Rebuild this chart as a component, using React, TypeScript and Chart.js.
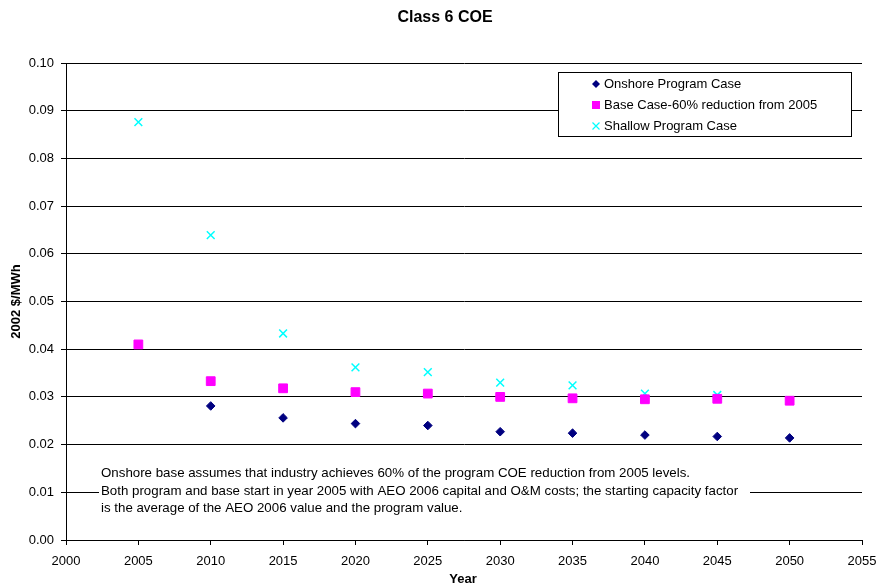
import React, { useEffect, useRef } from "react";
import { Chart, registerables } from "chart.js";

Chart.register(...registerables);

const years = [2005, 2010, 2015, 2020, 2025, 2030, 2035, 2040, 2045, 2050];
const onshoreProgram = [null, 0.0281, 0.0256, 0.0244, 0.024, 0.0227, 0.0224, 0.022, 0.0217, 0.0214];
const baseCase = [0.041, 0.0333, 0.0318, 0.031, 0.0307, 0.03, 0.0297, 0.0295, 0.0296, 0.0292];
const shallowProgram = [0.0876, 0.0639, 0.0433, 0.0362, 0.0352, 0.033, 0.0324, 0.0307, 0.0304, 0.0293];

const seriesNames = ["Onshore Program Case", "Base Case-60% reduction from 2005", "Shallow Program Case"];
const chartTitle = "Class 6 COE";
const xTitle = "Year";
const yTitle = "2002 $/MWh";
const noteLines = [
  "Onshore base assumes that industry achieves 60% of the program COE reduction from 2005 levels.",
  "Both program and base start in year 2005 with AEO 2006 capital and O&M costs; the starting capacity factor",
  "is the average of the AEO 2006 value and the program value.",
];

const SANS = "'Liberation Sans', Arial, sans-serif";

const toPoints = (vals: (number | null)[]) =>
  years.map((x, i) => ({ x, y: vals[i] })).filter((p) => p.y !== null) as { x: number; y: number }[];

function drawMarker(ctx: CanvasRenderingContext2D, style: string, x: number, y: number, color: string) {
  ctx.save();
  ctx.fillStyle = color;
  ctx.strokeStyle = color;
  ctx.lineWidth = 1.2;
  ctx.beginPath();
  if (style === "rectRot") {
    ctx.moveTo(x, y - 4);
    ctx.lineTo(x + 4, y);
    ctx.lineTo(x, y + 4);
    ctx.lineTo(x - 4, y);
    ctx.closePath();
    ctx.fill();
  } else if (style === "rect") {
    ctx.rect(x - 4, y - 4, 8, 8);
    ctx.fill();
  } else {
    ctx.moveTo(x - 3.5, y - 3.5);
    ctx.lineTo(x + 3.5, y + 3.5);
    ctx.moveTo(x + 3.5, y - 3.5);
    ctx.lineTo(x - 3.5, y + 3.5);
    ctx.stroke();
  }
  ctx.restore();
}

const decorPlugin = {
  id: "decor",
  beforeDatasetsDraw(chart: any) {
    const ctx = chart.ctx as CanvasRenderingContext2D;
    ctx.save();
    ctx.fillStyle = "#fff";
    ctx.fillRect(99, 462, 651, 54);
    ctx.fillStyle = "#000";
    ctx.font = `13.3px ${SANS}`;
    ctx.textBaseline = "middle";
    ctx.textAlign = "left";
    const ys = [473, 491, 508];
    noteLines.forEach((t, i) => ctx.fillText(t, 101, ys[i]));
    ctx.restore();
  },
  afterDraw(chart: any) {
    const ctx = chart.ctx as CanvasRenderingContext2D;
    ctx.save();
    ctx.fillStyle = "#000";
    ctx.font = `bold 16px ${SANS}`;
    ctx.textAlign = "center";
    ctx.textBaseline = "middle";
    ctx.fillText(chartTitle, 445, 18);

    ctx.font = `bold 13px ${SANS}`;
    ctx.fillText(xTitle, 463, 579);

    const bx = 558.5, by = 72.5, bw = 293, bh = 64;
    ctx.fillStyle = "#fff";
    ctx.fillRect(bx, by, bw, bh);
    ctx.strokeStyle = "#000";
    ctx.lineWidth = 1;
    ctx.strokeRect(bx, by, bw, bh);
    const rows = [84, 105, 126];
    const styles = ["rectRot", "rect", "crossRot"];
    const colors = ["#000080", "#FF00FF", "#00FFFF"];
    rows.forEach((ry, i) => {
      drawMarker(ctx, styles[i], 596, ry, colors[i]);
      ctx.fillStyle = "#000";
      ctx.font = `13px ${SANS}`;
      ctx.textAlign = "left";
      ctx.textBaseline = "middle";
      ctx.fillText(seriesNames[i], 604, ry);
    });
    ctx.restore();
  },
};

export default function App() {
  const ref = useRef<HTMLCanvasElement | null>(null);

  useEffect(() => {
    if (!ref.current) return;
    const chart = new Chart(ref.current, {
      type: "scatter",
      data: {
        datasets: [
          {
            label: seriesNames[0],
            data: toPoints(onshoreProgram),
            pointStyle: "rectRot",
            pointRadius: 4.3,
            backgroundColor: "#000080",
            borderColor: "#000080",
            borderWidth: 1,
          },
          {
            label: seriesNames[1],
            data: toPoints(baseCase),
            pointStyle: "rect",
            pointRadius: 6.2,
            backgroundColor: "#FF00FF",
            borderColor: "#FF00FF",
            borderWidth: 1,
          },
          {
            label: seriesNames[2],
            data: toPoints(shallowProgram),
            pointStyle: "crossRot",
            pointRadius: 5.5,
            backgroundColor: "#00FFFF",
            borderColor: "#00FFFF",
            borderWidth: 1.5,
          },
        ],
      },
      options: {
        animation: false,
        responsive: false,
        devicePixelRatio: 1,
        layout: { padding: { left: 0, top: 63, right: 14, bottom: 0 } },
        plugins: {
          legend: { display: false },
          title: { display: false },
          tooltip: { enabled: false },
        },
        scales: {
          x: {
            type: "linear",
            min: 2000,
            max: 2055,
            afterFit: (s: any) => {
              s.height = 46;
              s.paddingRight = 0;
              s.paddingLeft = 0;
            },
            ticks: {
              stepSize: 5,
              color: "#000",
              font: { family: SANS, size: 13 },
              padding: 9,
              maxRotation: 0,
              autoSkip: false,
              callback: (v: any) => String(v),
            },
            grid: {
              display: true,
              drawOnChartArea: false,
              drawTicks: true,
              tickLength: 5,
              color: "#000",
            },
            border: { display: true, color: "#000", width: 1 },
            title: { display: false },
          },
          y: {
            min: 0,
            max: 0.1,
            afterFit: (s: any) => {
              s.width = 66;
            },
            ticks: {
              stepSize: 0.01,
              color: "#000",
              font: { family: SANS, size: 13 },
              padding: 7,
              callback: (v: any) => Number(v).toFixed(2),
            },
            grid: {
              display: true,
              drawOnChartArea: true,
              drawTicks: true,
              tickLength: 5,
              color: "#000",
              lineWidth: 1,
            },
            border: { display: true, color: "#000", width: 1 },
            title: {
              display: true,
              text: yTitle,
              color: "#000",
              font: { family: SANS, size: 13, weight: "bold" },
              padding: { top: 9, bottom: 0 },
            },
          },
        },
      },
      plugins: [decorPlugin],
    } as any);
    return () => chart.destroy();
  }, []);

  return (
    <div style={{ position: "absolute", left: 0, top: 0, width: 876, height: 586, background: "#fff" }}>
      <canvas ref={ref} width={876} height={586} style={{ width: 876, height: 586, display: "block" }} />
    </div>
  );
}
